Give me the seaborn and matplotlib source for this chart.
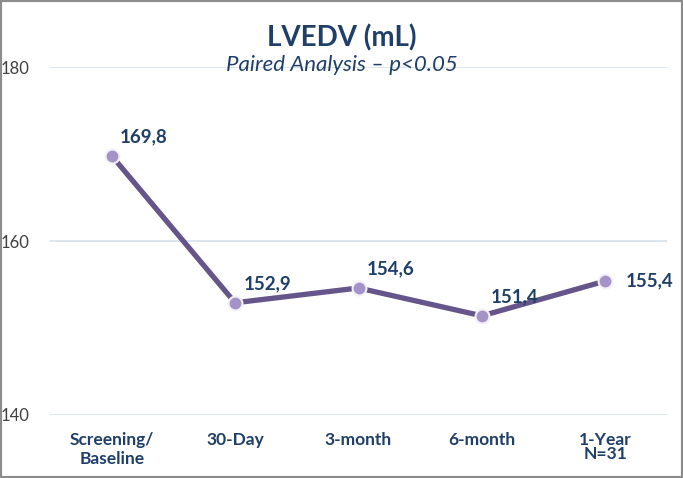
import matplotlib
matplotlib.use("Agg")
from matplotlib import pyplot as plt
from matplotlib.patches import Rectangle
import pandas as pd
import seaborn as sns

categories = ["Screening/\nBaseline", "30-Day", "3-month", "6-month", "1-Year\nN=31"]
lvedv = [169.8, 152.9, 154.6, 151.4, 155.4]
y_ticks = [140, 160, 180]

sns.set_theme(style="white")
plt.rcParams["font.family"] = ["Lato", "DejaVu Sans"]

navy = "#1F3F68"
purple = "#66558A"

df = pd.DataFrame({"visit": categories, "lvedv": lvedv})

fig = plt.figure(figsize=(6.83, 4.78), dpi=100)
ax = fig.add_axes([0.0732, 0.1318, 0.9034, 0.728])

sns.lineplot(data=df, x="visit", y="lvedv", ax=ax, color=purple, linewidth=3.8,
             marker="o", markersize=10, markerfacecolor="#A493C8",
             markeredgecolor="#F4F0FA", markeredgewidth=1.5, sort=False)

ax.set_xlim(-0.5, len(categories) - 0.5)
ax.set_ylim(140, 180)
ax.set_yticks(y_ticks)
ax.yaxis.grid(True, color="#D5E1EE", linewidth=1.2)
ax.set_axisbelow(True)
for s in ax.spines.values():
    s.set_visible(False)
ax.set_xlabel("")
ax.set_ylabel("")
ax.tick_params(axis="y", labelsize=12, colors="#404040", pad=15, length=0)
ax.tick_params(axis="x", labelsize=12.5, colors=navy, pad=12, length=0)
for lab in ax.get_xticklabels():
    lab.set_fontweight("bold")
    lab.set_linespacing(1.25 if lab.get_text().startswith("Screening") else 0.85)

offsets = [(6, 14), (6, 14), (6, 14), (6, 14), (15, 0)]
for i, (v, off) in enumerate(zip(lvedv, offsets)):
    ax.annotate(f"{v:.1f}".replace(".", ","), (i, v), xytext=off,
                textcoords="offset points", ha="left", va="center",
                fontsize=13.5, fontweight="bold", color=navy)

fig.text(0.5, 0.92, "LVEDV (mL)", ha="center", va="center",
         fontsize=20, fontweight="bold", color=navy)
fig.text(0.5, 0.863, "Paired Analysis \u2013 p<0.05", ha="center", va="center",
         fontsize=16, fontstyle="italic", color=navy)

fig.patches.append(Rectangle((0, 0), 1, 1, transform=fig.transFigure,
                             fill=False, edgecolor="#8C8C8C", linewidth=3))

fig.savefig("out.png", dpi=100)
